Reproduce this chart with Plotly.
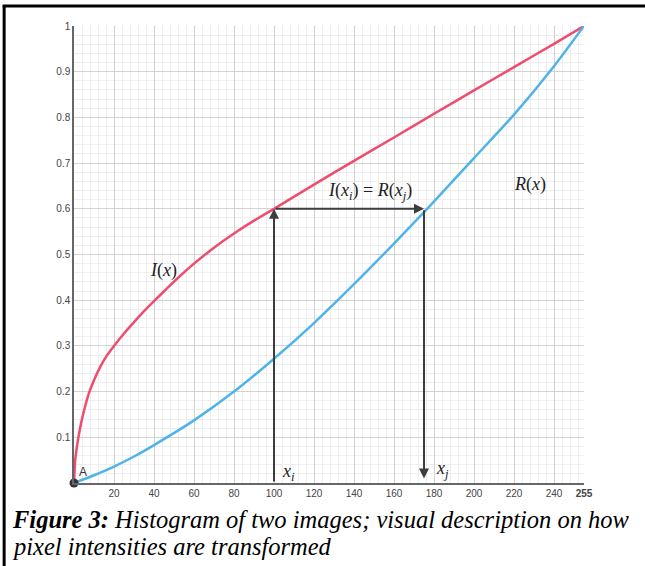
import plotly.graph_objects as go

# ---- data ----
red_x = [0, 0.5, 1, 2, 3.5, 5, 7.5, 10, 13, 16, 20, 25, 30, 35, 40, 47, 53, 60, 70,
         80, 90, 100, 120, 140, 160, 180, 200, 220, 240, 255]
red_y = [0, 0.045, 0.065, 0.095, 0.130, 0.158, 0.197, 0.225, 0.253, 0.276,
         0.300, 0.327, 0.352, 0.376, 0.398, 0.428, 0.453, 0.480, 0.515, 0.546,
         0.574, 0.600, 0.653, 0.705, 0.756, 0.808, 0.859, 0.910, 0.961, 1.0]

blue_x = [0, 10, 20, 30, 40, 60, 80, 100, 120, 140, 160, 176, 200, 220, 240, 255]
blue_y = [0, 0.017, 0.036, 0.058, 0.083, 0.137, 0.200, 0.272, 0.350, 0.435,
          0.524, 0.597, 0.711, 0.806, 0.912, 1.0]

x_i = [100]
x_j = [175]
level = [0.6]

x_ticks = [20, 40, 60, 80, 100, 120, 140, 160, 180, 200, 220, 240, 255]
x_ticktext = ["20", "40", "60", "80", "100", "120", "140", "160", "180", "200",
              "220", "240", "<b>255</b>"]
y_ticks = [0.1, 0.2, 0.3, 0.4, 0.5, 0.6, 0.7, 0.8, 0.9, 1.0]
y_ticktext = ["0.1", "0.2", "0.3", "0.4", "0.5", "0.6", "0.7", "0.8", "0.9", "1"]

point_A = ([0], [0])

RED = "#ee4d6e"
BLUE = "#4fb3ea"
ARROW = "#3d3d3d"

fig = go.Figure()
fig.add_trace(go.Scatter(x=red_x, y=red_y, mode="lines",
                         line=dict(color=RED, width=2.5, shape="spline", smoothing=0.4),
                         hoverinfo="skip", showlegend=False, cliponaxis=False))
fig.add_trace(go.Scatter(x=blue_x, y=blue_y, mode="lines",
                         line=dict(color=BLUE, width=2.5, shape="spline", smoothing=0.6),
                         hoverinfo="skip", showlegend=False, cliponaxis=False))
fig.add_trace(go.Scatter(x=point_A[0], y=point_A[1], mode="markers",
                         marker=dict(color="#333333", size=9),
                         hoverinfo="skip", showlegend=False, cliponaxis=False))

arrow_common = dict(xref="x", yref="y", axref="x", ayref="y", text="",
                    showarrow=True, arrowhead=2, arrowsize=1.0, arrowwidth=2,
                    arrowcolor=ARROW, standoff=0, startstandoff=0)
annotations = [
    dict(x=x_i[0], y=level[0], ax=x_i[0], ay=0, **arrow_common),
    dict(x=x_j[0], y=level[0], ax=x_i[0], ay=level[0], **arrow_common),
    dict(x=x_j[0], y=0.01, ax=x_j[0], ay=level[0], **arrow_common),
]

math_font = dict(family="Liberation Serif, Times New Roman, serif", size=18, color="#222222")
labels = [
    ("<i>I</i>(<i>x</i>)", 44.5, 0.466),
    ("<i>R</i>(<i>x</i>)", 228, 0.654),
    ("<i>I</i>(<i>x<sub>i</sub></i>) = <i>R</i>(<i>x<sub>j</sub></i>)", 148, 0.638),
    ("<i>x<sub>i</sub></i>", 107, 0.022),
    ("<i>x<sub>j</sub></i>", 184, 0.03),
]
for txt, lx, ly in labels:
    annotations.append(dict(x=lx, y=ly, xref="x", yref="y", text=txt,
                            showarrow=False, font=math_font))

annotations.append(dict(x=1.5, y=0.005, xref="x", yref="y", text="A", showarrow=False,
                        xanchor="left", yanchor="bottom",
                        font=dict(family="Liberation Sans, Arial, sans-serif", size=12,
                                  color="#333333")))

cap_font = dict(family="Liberation Serif, Times New Roman, serif", size=24.5, color="#000000")
annotations.append(dict(x=-0.1255, y=-0.079, xref="paper", yref="paper",
                        xanchor="left", yanchor="middle", showarrow=False,
                        text="<b><i>Figure 3:</i></b><i> Histogram of two images; visual description on how</i>",
                        font=cap_font))
annotations.append(dict(x=-0.1255, y=-0.138, xref="paper", yref="paper",
                        xanchor="left", yanchor="middle", showarrow=False,
                        text="<i>pixel intensities are transformed</i>",
                        font=cap_font))

shapes = [
    dict(type="line", xref="paper", yref="paper", x0=-0.137, x1=-0.137, y0=1.044, y1=-0.2,
         line=dict(color="#000000", width=3)),
    dict(type="line", xref="paper", yref="paper", x0=-0.14, x1=1.2, y0=1.044, y1=1.044,
         line=dict(color="#000000", width=3)),
]

tick_font = dict(family="Liberation Sans, Arial, sans-serif", size=10, color="#444444")

fig.update_layout(
    width=645, height=566,
    margin=dict(l=74, r=61, t=26, b=83),
    paper_bgcolor="white", plot_bgcolor="white",
    annotations=annotations, shapes=shapes,
    xaxis=dict(range=[0, 255], tickvals=x_ticks, ticktext=x_ticktext,
               showgrid=True, gridcolor="#d2d2d2", gridwidth=1,
               minor=dict(dtick=4, tick0=0, showgrid=True, gridcolor="#eeeeee", gridwidth=1),
               showline=True, linecolor="#666666", linewidth=1.5,
               zeroline=False, ticks="", tickfont=tick_font, fixedrange=True),
    yaxis=dict(range=[0, 1], tickvals=y_ticks, ticktext=y_ticktext,
               showgrid=True, gridcolor="#d2d2d2", gridwidth=1,
               minor=dict(dtick=0.02, tick0=0, showgrid=True, gridcolor="#eeeeee", gridwidth=1),
               showline=True, linecolor="#666666", linewidth=1.5,
               zeroline=False, ticks="", tickfont=tick_font, fixedrange=True),
)

fig.write_html("out.html", config={"displayModeBar": False},
               post_script="document.body.style.margin='0px';document.body.style.padding='0px';")
